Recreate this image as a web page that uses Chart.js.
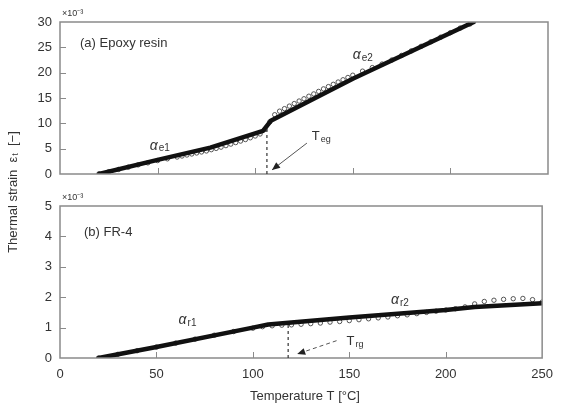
<!DOCTYPE html>
<html>
<head>
<meta charset="utf-8">
<script src="https://cdn.jsdelivr.net/npm/chart.js@4/dist/chart.umd.min.js"></script>
<style>
html,body{margin:0;padding:0;background:#fff;}
#wrap{position:relative;width:562px;height:409px;}
#wrap canvas{position:absolute;left:0;top:0;}
</style>
</head>
<body>
<div id="wrap">
<canvas id="top" width="562" height="409"></canvas>
<canvas id="bot" width="562" height="409"></canvas>
</div>
<script>
// ---- data (strain in units of 1e-3, temperature in °C) ----
const xTicks = [0, 50, 100, 150, 200, 250];
const topYTicks = [0, 5, 10, 15, 20, 25, 30];
const botYTicks = [0, 1, 2, 3, 4, 5];

// (a) Epoxy resin: fitted line and measured points
const epoxyFitT = [20, 50, 77, 104, 108, 150, 212];
const epoxyFitE = [0, 2.8, 5.2, 8.5, 10.5, 18.8, 30];
const epoxyMeasT = [20,25,30,35,40,45,50,55,60,62.5,65,67.5,70,72.5,75,77.5,80,82.5,85,87.5,90,92.5,95,97.5,100,102.5,105,107.5,110,112.5,115,117.5,120,122.5,125,127.5,130,132.5,135,137.5,140,142.5,145,147.5,150,155,160,165,170,175,180,185,190,195,200,205,210];
const epoxyMeasE = [0.05,0.45,0.9,1.35,1.8,2.2,2.65,3.0,3.35,3.55,3.75,3.95,4.15,4.35,4.55,4.8,5.05,5.3,5.6,5.9,6.2,6.5,6.8,7.15,7.5,7.9,8.8,10.3,11.7,12.4,12.9,13.4,13.9,14.4,14.85,15.35,15.8,16.3,16.8,17.25,17.7,18.15,18.6,19.05,19.5,20.3,21.0,21.7,22.5,23.4,24.3,25.2,26.1,27.0,27.9,28.8,29.6];

// (b) FR-4: fitted line and measured points
const fr4FitT = [20, 50, 100, 108, 120, 150, 200, 215, 250];
const fr4FitE = [0, 0.36, 1.0, 1.1, 1.17, 1.33, 1.58, 1.68, 1.8];
const fr4MeasT = [20,30,40,50,60,70,80,90,100,105,110,115,120,125,130,135,140,145,150,155,160,165,170,175,180,185,190,195,200,205,210,215,220,225,230,235,240,245,250];
const fr4MeasE = [0.0,0.12,0.24,0.36,0.49,0.62,0.75,0.87,0.98,1.03,1.06,1.08,1.09,1.11,1.13,1.15,1.18,1.2,1.23,1.26,1.29,1.32,1.35,1.39,1.42,1.46,1.5,1.54,1.58,1.62,1.68,1.78,1.86,1.9,1.93,1.95,1.96,1.92,1.84];

// annotation anchors (data coordinates)
const epoxyTg = 106;
const fr4Tg = 118.3;

function pts(xs, ys){ return xs.map((x,i)=>({x:x, y:ys[i]})); }

const FONT = '"Liberation Sans", Arial, sans-serif';
const FRAME = '#8a8a8a';
const TXT = '#333';

function subText(ctx, x, y, main, sub, size, italicMain){
  ctx.font = (italicMain ? 'italic ' : '') + size + 'px ' + FONT;
  ctx.textAlign = 'left';
  ctx.textBaseline = 'middle';
  ctx.fillText(main, x, y);
  const w = ctx.measureText(main).width;
  ctx.font = Math.round(size*0.7) + 'px ' + FONT;
  ctx.fillText(sub, x + w + 1, y + size*0.22);
}

function arrow(ctx, x1, y1, x2, y2, dashed){
  ctx.save();
  ctx.strokeStyle = '#555';
  ctx.fillStyle = '#222';
  ctx.lineWidth = 1;
  if (dashed) ctx.setLineDash([4,3]);
  ctx.beginPath(); ctx.moveTo(x1,y1); ctx.lineTo(x2,y2); ctx.stroke();
  ctx.setLineDash([]);
  const a = Math.atan2(y2-y1, x2-x1), L = 8, W = 3.5;
  ctx.beginPath();
  ctx.moveTo(x2,y2);
  ctx.lineTo(x2 - L*Math.cos(a) + W*Math.sin(a), y2 - L*Math.sin(a) - W*Math.cos(a));
  ctx.lineTo(x2 - L*Math.cos(a) - W*Math.sin(a), y2 - L*Math.sin(a) + W*Math.cos(a));
  ctx.closePath(); ctx.fill();
  ctx.restore();
}

function frameTicks(chart, xt, yt){
  const ctx = chart.ctx, a = chart.chartArea, sx = chart.scales.x, sy = chart.scales.y;
  ctx.save();
  ctx.strokeStyle = FRAME; ctx.lineWidth = 1.5;
  ctx.strokeRect(a.left, a.top, a.right - a.left, a.bottom - a.top);
  ctx.lineWidth = 1;
  ctx.beginPath();
  xt.forEach(v=>{ if (v<=sx.min || v>=sx.max) return; const p = Math.round(sx.getPixelForValue(v))+0.5; ctx.moveTo(p, a.bottom); ctx.lineTo(p, a.bottom-6); });
  yt.forEach(v=>{ if (v<=sy.min || v>=sy.max) return; const p = Math.round(sy.getPixelForValue(v))+0.5; ctx.moveTo(a.left, p); ctx.lineTo(a.left+6, p); });
  ctx.stroke();
  ctx.restore();
}

const topPlugin = {
  id: 'topDeco',
  afterDatasetsDraw(chart){
    const ctx = chart.ctx, sx = chart.scales.x, sy = chart.scales.y, a = chart.chartArea;
    frameTicks(chart, xTicks, topYTicks);
    ctx.save();
    ctx.fillStyle = TXT;
    ctx.font = '13px ' + FONT; ctx.textBaseline = 'middle'; ctx.textAlign = 'left';
    ctx.fillText('(a) Epoxy resin', 80, 43);
    ctx.font = '9px ' + FONT;
    ctx.fillText('\u00d710\u207b\u00b3', a.left + 2, a.top - 8);
    subText(ctx, sx.getPixelForValue(46), sy.getPixelForValue(5.6), 'α', 'e1', 14, true);
    subText(ctx, sx.getPixelForValue(150), sy.getPixelForValue(23.5), 'α', 'e2', 14, true);
    subText(ctx, sx.getPixelForValue(129), sy.getPixelForValue(7.4), 'T', 'eg', 13, false);
    ctx.strokeStyle = '#333'; ctx.lineWidth = 1.2; ctx.setLineDash([3,3]);
    const px = sx.getPixelForValue(epoxyTg);
    ctx.beginPath(); ctx.moveTo(px, sy.getPixelForValue(0)); ctx.lineTo(px, sy.getPixelForValue(8.8)); ctx.stroke();
    ctx.setLineDash([]);
    arrow(ctx, sx.getPixelForValue(126.5), sy.getPixelForValue(6.1), sx.getPixelForValue(108.6), sy.getPixelForValue(0.8), false);
    ctx.restore();
  }
};

const botPlugin = {
  id: 'botDeco',
  afterDatasetsDraw(chart){
    const ctx = chart.ctx, sx = chart.scales.x, sy = chart.scales.y, a = chart.chartArea;
    frameTicks(chart, xTicks, botYTicks);
    ctx.save();
    ctx.fillStyle = TXT;
    ctx.font = '13px ' + FONT; ctx.textBaseline = 'middle'; ctx.textAlign = 'left';
    ctx.fillText('(b) FR-4', 84, 232);
    ctx.font = '9px ' + FONT;
    ctx.fillText('\u00d710\u207b\u00b3', a.left + 2, a.top - 8);
    subText(ctx, sx.getPixelForValue(61.5), sy.getPixelForValue(1.25), 'α', 'r1', 14, true);
    subText(ctx, sx.getPixelForValue(171.6), sy.getPixelForValue(1.9), 'α', 'r2', 14, true);
    subText(ctx, sx.getPixelForValue(148.6), sy.getPixelForValue(0.55), 'T', 'rg', 13, false);
    ctx.strokeStyle = '#333'; ctx.lineWidth = 1.2; ctx.setLineDash([3,3]);
    const px = sx.getPixelForValue(fr4Tg);
    ctx.beginPath(); ctx.moveTo(px, sy.getPixelForValue(0)); ctx.lineTo(px, sy.getPixelForValue(1.15)); ctx.stroke();
    ctx.setLineDash([]);
    arrow(ctx, sx.getPixelForValue(143.4), sy.getPixelForValue(0.57), sx.getPixelForValue(123), sy.getPixelForValue(0.13), true);
    ctx.fillStyle = TXT; ctx.font = '13px ' + FONT; ctx.textAlign = 'center';
    ctx.fillText('Temperature T [\u00b0C]', 305, 396);
    ctx.translate(13, 192); ctx.rotate(-Math.PI/2);
    ctx.textAlign = 'left';
    const s1 = 'Thermal strain  ε', s2 = 't', s3 = '  [\u2212]';
    ctx.font = '13px ' + FONT; const w1 = ctx.measureText(s1).width, w3 = ctx.measureText(s3).width;
    ctx.font = '9px ' + FONT; const w2 = ctx.measureText(s2).width;
    let x0 = -(w1 + w2 + w3 + 1)/2;
    ctx.font = '13px ' + FONT; ctx.fillText(s1, x0, 0);
    ctx.font = '9px ' + FONT; ctx.fillText(s2, x0 + w1 + 1, 3);
    ctx.font = '13px ' + FONT; ctx.fillText(s3, x0 + w1 + w2 + 1, 0);
    ctx.restore();
  }
};

function makeChart(id, fit, meas, yMax, yTicks, pad, showX, plugin){
  return new Chart(document.getElementById(id), {
    type: 'scatter',
    data: { datasets: [
      { data: fit, showLine: true, borderColor: '#111', borderWidth: 4.5, borderCapStyle: 'round', borderJoinStyle: 'round', pointRadius: 0, tension: 0, order: 0 },
      { data: meas, showLine: false, pointRadius: 2.2, pointBorderWidth: 0.9, pointBorderColor: '#444', pointBackgroundColor: 'rgba(255,255,255,0.2)', order: 1 }
    ]},
    options: {
      responsive: false, animation: false, devicePixelRatio: 1,
      layout: { padding: pad },
      plugins: { legend: { display: false }, tooltip: { enabled: false } },
      scales: {
        x: { type: 'linear', min: 0, max: 250,
             afterBuildTicks: s => { s.ticks = xTicks.map(v=>({value:v})); },
             ticks: { display: showX, padding: 9, color: TXT, font: { family: FONT, size: 13 } },
             grid: { display: false, drawTicks: false }, border: { display: false },
             afterFit: s => { s.height = showX ? 51 : 0; } },
        y: { min: 0, max: yMax,
             afterBuildTicks: s => { s.ticks = yTicks.map(v=>({value:v})); },
             ticks: { padding: 8, color: TXT, font: { family: FONT, size: 13 } },
             grid: { display: false, drawTicks: false }, border: { display: false },
             afterFit: s => { s.width = 60; } }
      }
    },
    plugins: [plugin]
  });
}

makeChart('top', pts(epoxyFitT, epoxyFitE), pts(epoxyMeasT, epoxyMeasE), 30, topYTicks,
  { left: 0, right: 14, top: 22, bottom: 235 }, false, topPlugin);
makeChart('bot', pts(fr4FitT, fr4FitE), pts(fr4MeasT, fr4MeasE), 5, botYTicks,
  { left: 0, right: 14, top: 206, bottom: 0 }, true, botPlugin);
</script>
</body>
</html>
